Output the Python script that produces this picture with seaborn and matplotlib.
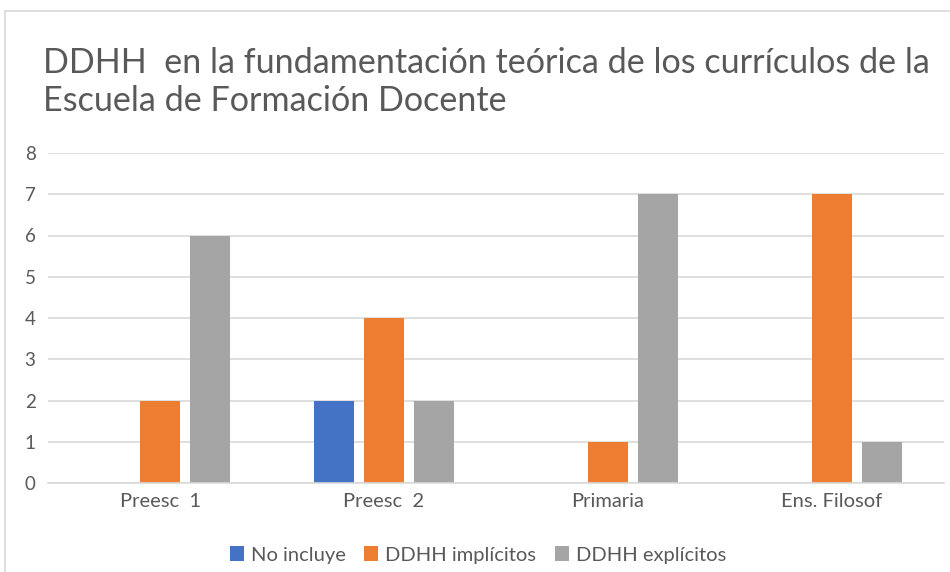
import matplotlib
matplotlib.use("Agg")
import matplotlib.pyplot as plt
import seaborn as sns
import pandas as pd
from matplotlib.patches import Rectangle

categories = ["Preesc  1", "Preesc  2", "Primaria", "Ens. Filosof"]
series_names = ["No incluye", "DDHH implícitos", "DDHH explícitos"]
no_incluye = [0, 2, 0, 0]
implicitos = [2, 4, 1, 7]
explicitos = [6, 2, 7, 1]
colors = ["#4472C4", "#ED7D31", "#A5A5A5"]
title = "DDHH  en la fundamentación teórica de los currículos de la\nEscuela de Formación Docente"

rows = []
for name, vals in zip(series_names, [no_incluye, implicitos, explicitos]):
    for c, v in zip(categories, vals):
        rows.append({"cat": c, "serie": name, "valor": v})
df = pd.DataFrame(rows)

sns.set_theme(style="white")
plt.rcParams['font.family'] = ['Lato', 'DejaVu Sans']

fig = plt.figure(figsize=(9.5, 5.72), dpi=100)
ax = fig.add_axes([48/950, 1-483/572, (944-48)/950, (483-153)/572])

sns.barplot(data=df, x="cat", y="valor", hue="serie", palette=colors,
            width=0.67, gap=0.2, ax=ax, saturation=1, legend=True,
            order=categories, hue_order=series_names, linewidth=0,
            edgecolor="none")

ax.set_xlim(-0.5, 3.5)
ax.set_ylim(0, 8)
ax.set_yticks(range(0, 9))
ax.set_xlabel("")
ax.set_ylabel("")
ax.yaxis.grid(True, color="#D9D9D9", linewidth=1.2)
ax.set_axisbelow(True)
for s in ["left", "right", "top"]:
    ax.spines[s].set_visible(False)
ax.spines["bottom"].set_color("#D9D9D9")
ax.spines["bottom"].set_linewidth(1.2)
ax.tick_params(axis="both", length=0, colors="#595959")
ax.tick_params(axis="y", pad=9, labelsize=13.5)
ax.tick_params(axis="x", pad=7, labelsize=14.5)

leg = ax.legend(loc="center", bbox_to_anchor=(478/950, 1-555/572),
                bbox_transform=fig.transFigure, ncol=3, frameon=False,
                fontsize=14.5, handlelength=0.7, handleheight=0.7,
                handletextpad=0.35, columnspacing=0.9)
for t in leg.get_texts():
    t.set_color("#595959")

fig.text(43/950, 1-47/572, title, ha="left", va="top", fontsize=24.6,
         color="#595959", linespacing=1.22)

fig.patches.append(Rectangle((5/950, -0.1), 1.2, 1-11/572+0.1,
                             transform=fig.transFigure, fill=False,
                             edgecolor="#D9D9D9", linewidth=1.2))

fig.savefig("out.png", dpi=100)
